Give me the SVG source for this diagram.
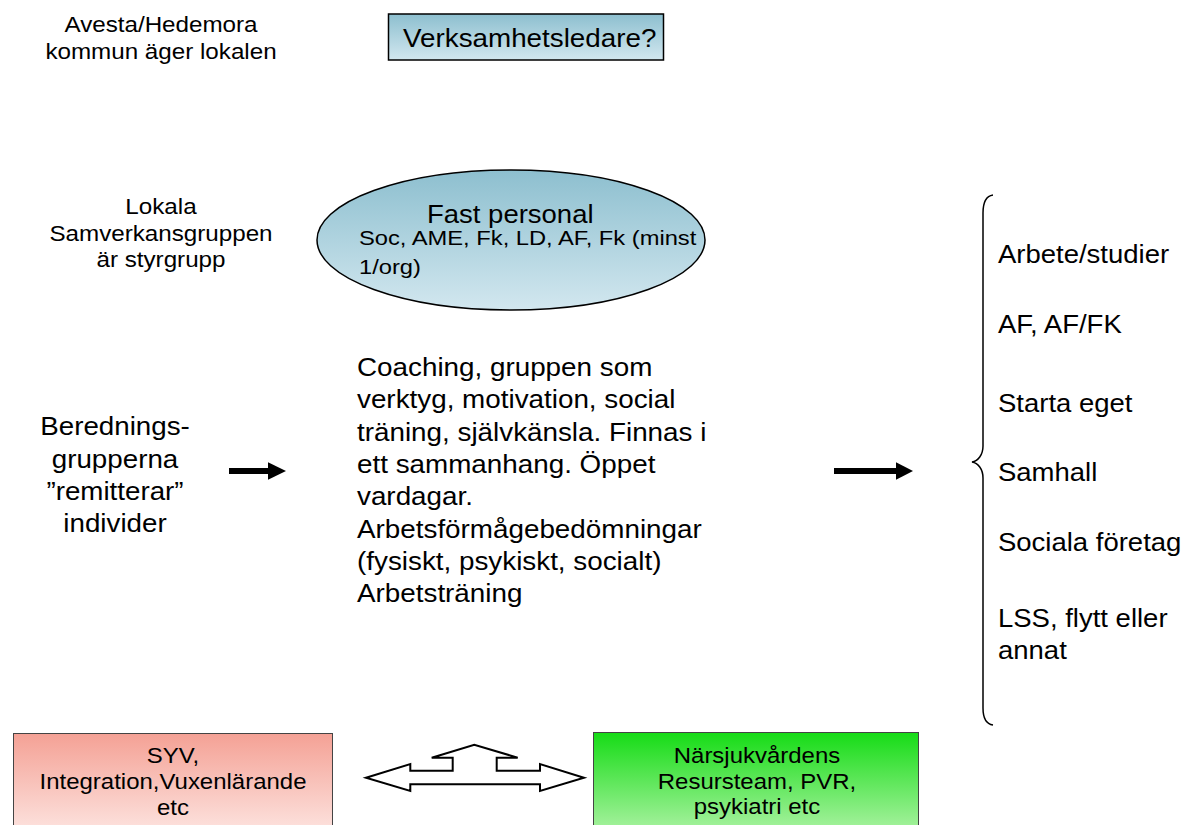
<svg xmlns="http://www.w3.org/2000/svg" width="1186" height="825" viewBox="0 0 1186 825">
<defs>
<linearGradient id="gBlue" x1="0" y1="0" x2="0" y2="1"><stop offset="0" stop-color="#8dbfcf"/><stop offset="1" stop-color="#d2e7ef"/></linearGradient>
<linearGradient id="gRed" x1="0" y1="0" x2="0" y2="1"><stop offset="0" stop-color="#f4a195"/><stop offset="1" stop-color="#fde4e0"/></linearGradient>
<linearGradient id="gGreen" x1="0" y1="0" x2="0" y2="1"><stop offset="0" stop-color="#16dc16"/><stop offset="1" stop-color="#aaf2a2"/></linearGradient>
</defs>
<style>
text{font-family:"Liberation Sans",Arial,sans-serif;fill:#000}
.c{text-anchor:middle}
.f22{font-size:22px}
.f25{font-size:25px}
.f26{font-size:26px}
.f21{font-size:21px}
.box{stroke:#000;stroke-width:1.5}
.sbox{stroke:#444;stroke-width:1}
.arr{fill:#000}
</style>
<rect width="1186" height="825" fill="#fff"/>

<g id="n-avesta" transform="translate(161,0) scale(1.1,1)">
<text class="c f22" x="0" y="32">Avesta/Hedemora</text>
<text class="c f22" x="0" y="59">kommun äger lokalen</text>
</g>

<g id="n-verksamhetsledare">
<rect class="box" x="388.5" y="14" width="275" height="46" fill="url(#gBlue)"/>
<g transform="translate(403,0) scale(1.07,1)"><text class="f26" x="0" y="47">Verksamhetsledare?</text></g>
</g>

<g id="n-lokala" transform="translate(161,0) scale(1.1,1)">
<text class="c f22" x="0" y="214">Lokala</text>
<text class="c f22" x="0" y="241">Samverkansgruppen</text>
<text class="c f22" x="0" y="267">är styrgrupp</text>
</g>

<g id="n-fastpersonal">
<ellipse cx="511" cy="240" rx="194" ry="70" fill="url(#gBlue)" stroke="#000" stroke-width="1.5"/>
<g transform="translate(427,0) scale(1.1,1)"><text class="f25" x="0" y="223">Fast personal</text></g>
<g transform="translate(359,0) scale(1.13,1)">
<text class="f21" x="0" y="245">Soc, AME, Fk, LD, AF, Fk (minst</text>
<text class="f21" x="0" y="274">1/org)</text>
</g>
</g>

<g id="n-beredning" transform="translate(115,0) scale(1.11,1)">
<text class="c f25" x="0" y="435">Berednings-</text>
<text class="c f25" x="0" y="468">grupperna</text>
<text class="c f25" x="0" y="500">”remitterar”</text>
<text class="c f25" x="0" y="532">individer</text>
</g>

<g id="n-verksamhet" transform="translate(357,0) scale(1.113,1)">
<text class="f25" x="0" y="376">Coaching, gruppen som</text>
<text class="f25" x="0" y="408">verktyg, motivation, social</text>
<text class="f25" x="0" y="441">träning, självkänsla. Finnas i</text>
<text class="f25" x="0" y="473">ett sammanhang. Öppet</text>
<text class="f25" x="0" y="505">vardagar.</text>
<text class="f25" x="0" y="538">Arbetsförmågebedömningar</text>
<text class="f25" x="0" y="570">(fysiskt, psykiskt, socialt)</text>
<text class="f25" x="0" y="602">Arbetsträning</text>
</g>

<g id="n-utfall" transform="translate(998,0) scale(1.1,1)">
<text class="f25" x="0" y="263">Arbete/studier</text>
<text class="f25" x="0" y="333">AF, AF/FK</text>
<text class="f25" x="0" y="412">Starta eget</text>
<text class="f25" x="0" y="481">Samhall</text>
<text class="f25" x="0" y="551">Sociala företag</text>
<text class="f25" x="0" y="627">LSS, flytt eller</text>
<text class="f25" x="0" y="659">annat</text>
</g>

<g id="brace">
<path d="M993,195 C986,196 983,203 983,213 L983,446 C983,455 978,461 972,462 C978,463 983,469 983,478 L983,708 C983,718 986,724 993,725" fill="none" stroke="#000" stroke-width="1.5"/>
</g>

<g id="n-syv">
<rect class="sbox" x="13.5" y="733.5" width="319" height="100" fill="url(#gRed)"/>
<g transform="translate(173,0) scale(1.09,1)">
<text class="c f22" x="0" y="763">SYV,</text>
<text class="c f22" x="0" y="789">Integration,Vuxenlärande</text>
<text class="c f22" x="0" y="815">etc</text>
</g>
</g>

<g id="n-narsjukvard">
<rect class="sbox" x="593.5" y="732.5" width="325" height="100" fill="url(#gGreen)"/>
<g transform="translate(757,0) scale(1.09,1)">
<text class="c f22" x="0" y="763">Närsjukvårdens</text>
<text class="c f22" x="0" y="789">Resursteam, PVR,</text>
<text class="c f22" x="0" y="814">psykiatri etc</text>
</g>
</g>

<g id="connectors">
<g id="arrow1">
<rect class="arr" x="229" y="468" width="41" height="6"/>
<polygon class="arr" points="268,462.3 286,471 268,479.7"/>
</g>
<g id="arrow2">
<rect class="arr" x="834" y="468" width="64" height="6"/>
<polygon class="arr" points="896,462.3 913,471 896,479.7"/>
</g>
<polygon id="triarrow" points="366,777.7 410.3,764 410.3,770.7 452.7,770.7 452.7,757.7 431.7,757.7 474.3,744.7 517.7,757.7 496.7,757.7 496.7,770.7 540,770.7 540,764 584,777.7 540,791 540,784.3 410.3,784.3 410.3,791" fill="#fff" stroke="#000" stroke-width="2" stroke-linejoin="miter"/>
</g>
</svg>
